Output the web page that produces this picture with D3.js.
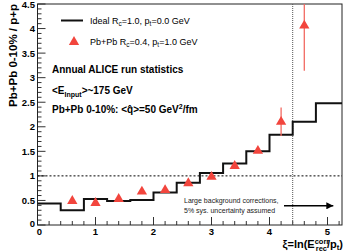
<!DOCTYPE html>
<html>
<head>
<meta charset="utf-8">
<script src="https://cdn.jsdelivr.net/npm/d3@7"></script>
<style>
  body { margin: 0; background: #fff; }
  text { font-family: "Liberation Sans", Arial, sans-serif; }
</style>
</head>
<body>
<svg id="chart" width="346" height="252"></svg>
<script>
// ideal histogram (step line)
const binEdges = [0, 0.4, 0.8, 1.2, 1.6, 2.0, 2.4, 2.8, 3.2, 3.6, 4.0, 4.4, 4.8, 5.25];
const idealVals = [0.44, 0.30, 0.53, 0.49, 0.51, 0.66, 0.86, 1.06, 1.25, 1.50, 1.84, 2.10, 2.48];

// Pb+Pb points
const xiVals = [0.6, 1.0, 1.4, 1.8, 2.2, 2.6, 3.0, 3.4, 3.8, 4.2, 4.6];
const ratioVals = [0.49, 0.45, 0.53, 0.68, 0.71, 0.85, 0.98, 1.20, 1.51, 2.10, 4.06];
const ratioErr = [0.02, 0.02, 0.02, 0.02, 0.02, 0.02, 0.03, 0.03, 0.04, 0.29, 0.92];

const xTicks = [0, 1, 2, 3, 4, 5];
const yTicks = [0, 0.5, 1, 1.5, 2, 2.5, 3, 3.5, 4, 4.5];
const yTickLabels = ['0', '0.5', '1', '1.5', '2', '2.5', '3', '3.5', '4', '4.5'];

const xCut = 4.4;

let svg = d3.select('#chart');
let x = d3.scaleLinear().domain([0, 5.25]).range([37.5, 342]);
let y = d3.scaleLinear().domain([0, 4.5]).range([225, 4]);

svg.append('clipPath').attr('id', 'clip')
  .append('rect')
  .attr('x', x(0)).attr('y', y(4.5))
  .attr('width', x(5.25) - x(0)).attr('height', y(0) - y(4.5));

// minor + major ticks, drawn inward
let xMinor = d3.range(0, 5.25, 0.2);
svg.append('g').selectAll('line').data(xMinor).enter().append('line')
  .attr('x1', d => x(d)).attr('x2', d => x(d))
  .attr('y1', y(0)).attr('y2', d => y(0) - (Math.abs(d - Math.round(d)) < 1e-6 ? 8 : 4))
  .attr('stroke', '#333').attr('stroke-width', 1);

let yMinor = d3.range(0, 4.51, 0.1);
svg.append('g').selectAll('line').data(yMinor).enter().append('line')
  .attr('y1', d => y(d)).attr('y2', d => y(d))
  .attr('x1', x(0)).attr('x2', d => x(0) + (Math.abs(d * 2 - Math.round(d * 2)) < 1e-6 ? 8 : 4))
  .attr('stroke', '#333').attr('stroke-width', 1);

// frame
svg.append('rect')
  .attr('x', x(0)).attr('y', y(4.5))
  .attr('width', x(5.25) - x(0)).attr('height', y(0) - y(4.5))
  .attr('fill', 'none').attr('stroke', '#222').attr('stroke-width', 1);

// tick labels
svg.append('g').selectAll('text').data(xTicks).enter().append('text')
  .attr('x', d => x(d) + (d === 0 ? 2 : 0)).attr('y', 235)
  .attr('text-anchor', 'middle')
  .attr('font-size', 9.5).attr('font-weight', 'bold')
  .text(d => d);

svg.append('g').selectAll('text').data(yTicks).enter().append('text')
  .attr('x', 35).attr('y', d => y(d) + 3.5 - (d === 0 ? 2 : 0))
  .attr('text-anchor', 'end')
  .attr('font-size', 9.5).attr('font-weight', 'bold')
  .text((d, i) => yTickLabels[i]);

// y axis title
svg.append('text')
  .attr('transform', 'translate(17,4) rotate(-90)')
  .attr('text-anchor', 'end')
  .attr('font-size', 11.5).attr('font-weight', 'bold')
  .text('Pb+Pb 0-10% / p+p');

// x axis title
let xt = svg.append('text')
  .attr('x', 343).attr('y', 247.5)
  .attr('text-anchor', 'end')
  .attr('font-size', 11).attr('font-weight', 'bold');
xt.append('tspan').text('ξ=ln(E');
xt.append('tspan').attr('font-size', 7.5).attr('dy', -3.5).text('corr');
xt.append('tspan').attr('font-size', 7.5).attr('dx', -13.5).attr('dy', 7).text('rec');
xt.append('tspan').attr('dy', -3.5).text('/p');
xt.append('tspan').attr('font-size', 7.5).attr('dy', 2.5).text('t');
xt.append('tspan').attr('dy', -2.5).text(')');

let plot = svg.append('g').attr('clip-path', 'url(#clip)');

// reference lines
plot.append('line')
  .attr('x1', x(0)).attr('x2', x(5.25)).attr('y1', y(1)).attr('y2', y(1))
  .attr('stroke', '#000').attr('stroke-width', 1).attr('stroke-dasharray', '2,2');
plot.append('line')
  .attr('x1', x(xCut)).attr('x2', x(xCut)).attr('y1', y(0)).attr('y2', y(4.5))
  .attr('stroke', '#555').attr('stroke-width', 1).attr('stroke-dasharray', '1,1');

// step histogram
let stepData = idealVals.map((v, i) => ({ x: binEdges[i], v: v }));
stepData.push({ x: binEdges[binEdges.length - 1], v: idealVals[idealVals.length - 1] });
let step = d3.line().x(d => x(d.x)).y(d => y(d.v)).curve(d3.curveStepAfter);
plot.append('path').datum(stepData)
  .attr('d', step)
  .attr('fill', 'none').attr('stroke', '#111').attr('stroke-width', 2);

// error bars
let red = '#f2453d';
plot.append('g').selectAll('line').data(xiVals).enter().append('line')
  .attr('x1', d => x(d)).attr('x2', d => x(d))
  .attr('y1', (d, i) => y(ratioVals[i] - ratioErr[i]))
  .attr('y2', (d, i) => y(ratioVals[i] + ratioErr[i]))
  .attr('stroke', '#f26a62').attr('stroke-width', 1.3);

// triangles
let tri = d3.symbol().type(d3.symbolTriangle).size(46);
plot.append('g').selectAll('path').data(xiVals).enter().append('path')
  .attr('transform', (d, i) => 'translate(' + x(d) + ',' + y(ratioVals[i]) + ')')
  .attr('d', tri)
  .attr('fill', red);

// legend
svg.append('line')
  .attr('x1', 61).attr('x2', 83).attr('y1', 20.5).attr('y2', 20.5)
  .attr('stroke', '#111').attr('stroke-width', 2);
svg.append('path')
  .attr('transform', 'translate(74,42)')
  .attr('d', tri).attr('fill', red);

function legendText(yy, parts) {
  let t = svg.append('text').attr('x', 90).attr('y', yy).attr('font-size', 9);
  parts.forEach(p => {
    let s = t.append('tspan').text(p[0]);
    if (p[1] === 'sub') s.attr('font-size', 6.5).attr('dy', 2);
    if (p[1] === 'back') s.attr('dy', -2);
  });
}
legendText(24, [['Ideal R'], ['c', 'sub'], ['=1.0, p', 'back'], ['t', 'sub'], ['=0.0 GeV', 'back']]);
legendText(45, [['Pb+Pb R'], ['c', 'sub'], ['=0.4, p', 'back'], ['t', 'sub'], ['=1.0 GeV', 'back']]);

// annotations
svg.append('text').attr('x', 52).attr('y', 73)
  .attr('font-size', 10).attr('font-weight', 'bold')
  .text('Annual ALICE run statistics');

let e = svg.append('text').attr('x', 52).attr('y', 94)
  .attr('font-size', 10).attr('font-weight', 'bold');
e.append('tspan').text('<E');
e.append('tspan').attr('font-size', 7).attr('dy', 2.5).text('Input');
e.append('tspan').attr('dy', -2.5).text('>~175 GeV');

let q = svg.append('text').attr('x', 52).attr('y', 113)
  .attr('font-size', 10).attr('font-weight', 'bold');
q.append('tspan').text('Pb+Pb 0-10%: <q\u0302>=50 GeV');
q.append('tspan').attr('font-size', 7).attr('dy', -4).text('2');
q.append('tspan').attr('dy', 4).text('/fm');

svg.append('text').attr('x', 184).attr('y', 203)
  .attr('font-size', 7).attr('fill', '#222')
  .text('Large background corrections,');
svg.append('text').attr('x', 184).attr('y', 213)
  .attr('font-size', 7).attr('fill', '#222')
  .text('5% sys. uncertainty assumed');

// arrow
svg.append('defs').append('marker')
  .attr('id', 'arrow').attr('viewBox', '0 0 10 10')
  .attr('refX', 10).attr('refY', 5)
  .attr('markerWidth', 10).attr('markerHeight', 7)
  .attr('markerUnits', 'userSpaceOnUse')
  .attr('orient', 'auto')
  .append('path').attr('d', 'M0,0 L10,5 L0,10 Z').attr('fill', '#000');
svg.append('line')
  .attr('x1', x(4.25)).attr('x2', x(5.1)).attr('y1', y(0.39)).attr('y2', y(0.39))
  .attr('stroke', '#000').attr('stroke-width', 1.5)
  .attr('marker-end', 'url(#arrow)');
</script>
</body>
</html>
